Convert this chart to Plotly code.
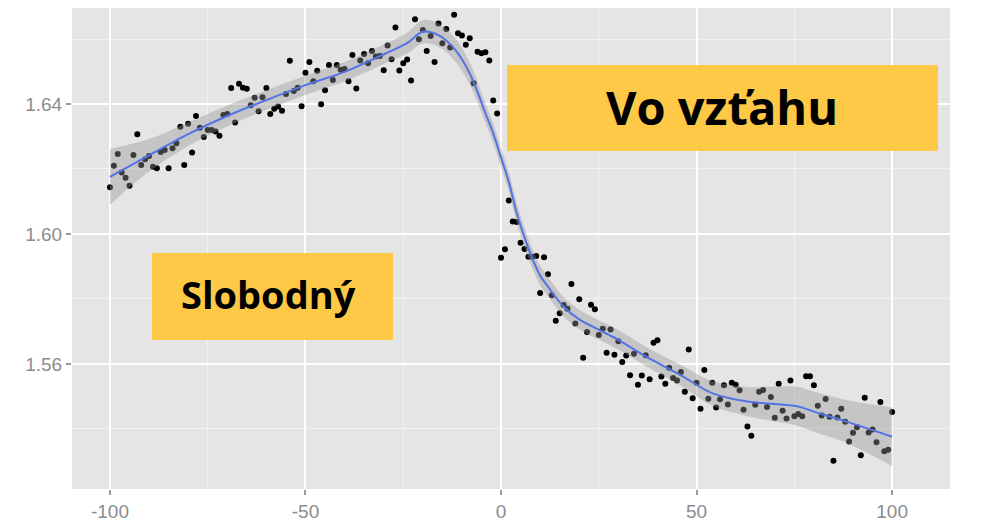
import plotly.graph_objects as go

# ---- data ----
x_vals = list(range(-100, 101))
y_vals = [
    1.6144, 1.6210, 1.6246, 1.6189, 1.6173, 1.6148, 1.6243, 1.6307, 1.6212, 1.6230,  # -100..-91
    1.6240, 1.6207, 1.6202, 1.6252, 1.6258, 1.6202, 1.6264, 1.6279, 1.6330, 1.6212,  # -90..-81
    1.6339, 1.6251, 1.6363, 1.6327, 1.6298, 1.6320, 1.6320, 1.6315, 1.6302, 1.6366,  # -80..-71
    1.6369, 1.6449, 1.6343, 1.6462, 1.6450, 1.6447, 1.6396, 1.6419, 1.6378, 1.6421,  # -70..-61
    1.6449, 1.6369, 1.6385, 1.6392, 1.6379, 1.6431, 1.6533, 1.6440, 1.6450, 1.6393,  # -60..-51
    1.6496, 1.6529, 1.6470, 1.6502, 1.6399, 1.6442, 1.6520, 1.6474, 1.6520, 1.6505,  # -50..-41
    1.6508, 1.6470, 1.6551, 1.6448, 1.6534, 1.6554, 1.6525, 1.6563, 1.6546, 1.6548,  # -40..-31
    1.6504, 1.6580, 1.6538, 1.6635, 1.6503, 1.6525, 1.6537, 1.6472, 1.6661, 1.6599,  # -30..-21
    1.6628, 1.6563, 1.6609, 1.6529, 1.6648, 1.6587, 1.6631, 1.6574, 1.6675, 1.6618,  # -20..-11
    1.6611, 1.6582, 1.6602, 1.6464, 1.6561, 1.6556, 1.6559, 1.6534, 1.6411, 1.6371,  # -10..-1
    1.5927, 1.5953, 1.6103, 1.6038, 1.6037, 1.5973, 1.5954, 1.5930, 1.5930, 1.5932,  # 0..9
    1.5818, 1.5928, 1.5876, 1.5811, 1.5733, 1.5756, 1.5781, 1.5770, 1.5846, 1.5724,  # 10..19
    1.5799, 1.5619, 1.5698, 1.5782, 1.5768, 1.5689, 1.5708, 1.5634, 1.5706, 1.5628,  # 20..29
    1.5670, 1.5606, 1.5626, 1.5565, 1.5631, 1.5536, 1.5564, 1.5627, 1.5553, 1.5665,  # 30..39
    1.5673, 1.5561, 1.5539, 1.5588, 1.5557, 1.5549, 1.5575, 1.5514, 1.5644, 1.5494,  # 40..49
    1.5542, 1.5462, 1.5581, 1.5493, 1.5542, 1.5466, 1.5491, 1.5534, 1.5475, 1.5542,  # 50..59
    1.5536, 1.5519, 1.5459, 1.5407, 1.5379, 1.5474, 1.5514, 1.5520, 1.5467, 1.5498,  # 60..69
    1.5434, 1.5539, 1.5456, 1.5432, 1.5549, 1.5439, 1.5446, 1.5439, 1.5562, 1.5562,  # 70..79
    1.5534, 1.5471, 1.5441, 1.5492, 1.5437, 1.5302, 1.5435, 1.5462, 1.5422, 1.5361,  # 80..89
    1.5388, 1.5405, 1.5319, 1.5496, 1.5389, 1.5398, 1.5359, 1.5483, 1.5331, 1.5336,  # 90..99
    1.5452,                                                                          # 100
]

smooth_x = [-100, -90, -80, -70, -60, -50, -40, -30, -24, -20, -16, -12, -8, -4, -2,
            0, 2, 4, 6, 8, 10, 12, 16, 20, 25, 30, 37, 46, 54, 63, 71, 76, 80, 88, 100]
smooth_y = [1.6176, 1.6242, 1.6307, 1.6363, 1.6412, 1.6458, 1.6499, 1.6553, 1.6587, 1.6622,
            1.6612, 1.6571, 1.6494, 1.6372, 1.6310, 1.6235, 1.6160, 1.6065, 1.5990, 1.5925,
            1.5872, 1.5838, 1.5776, 1.5737, 1.5705, 1.5674, 1.5623, 1.5565, 1.5510, 1.5484,
            1.5476, 1.5469, 1.5453, 1.5424, 1.5376]
smooth_se = [0.0086, 0.0050, 0.0036, 0.0032, 0.0030, 0.0030, 0.0030, 0.0030, 0.0032, 0.0036,
             0.0036, 0.0036, 0.0034, 0.0030, 0.0030, 0.0030, 0.0030, 0.0030, 0.0030, 0.0030,
             0.0030, 0.0030, 0.0030, 0.0030, 0.0030, 0.0030, 0.0030, 0.0032, 0.0038, 0.0045,
             0.0055, 0.0060, 0.0062, 0.0066, 0.0090]

x_ticks = [-100, -50, 0, 50, 100]
y_ticks = [1.56, 1.60, 1.64]
y_tick_text = ["1.56", "1.60", "1.64"]

label_single = "Slobodný"
label_relation = "Vo vzťahu"

upper = [m + s for m, s in zip(smooth_y, smooth_se)]
lower = [m - s for m, s in zip(smooth_y, smooth_se)]

fig = go.Figure()

fig.add_trace(go.Scatter(x=x_vals, y=y_vals, mode="markers",
                         marker=dict(color="black", size=6, line=dict(width=0)),
                         showlegend=False, hoverinfo="skip"))
fig.add_trace(go.Scatter(x=smooth_x, y=lower, mode="lines",
                         line=dict(width=0, shape="spline"),
                         showlegend=False, hoverinfo="skip"))
fig.add_trace(go.Scatter(x=smooth_x, y=upper, mode="lines",
                         line=dict(width=0, shape="spline"),
                         fill="tonexty", fillcolor="rgba(150,150,150,0.4)",
                         showlegend=False, hoverinfo="skip"))
fig.add_trace(go.Scatter(x=smooth_x, y=smooth_y, mode="lines",
                         line=dict(color="#5273E6", width=2, shape="spline"),
                         showlegend=False, hoverinfo="skip"))

tick_font = dict(family="Liberation Sans, Arial, sans-serif", size=19, color="#8C8C8C")

# page body adds an 8px offset; plot area maps to reference pixels x 72..950, y 8..489
H_PLOT = 481.0
W_PLOT = 878.0

def py(v):
    return (489 - v) / H_PLOT

def px(v):
    return (v - 72) / W_PLOT

fig.update_layout(
    width=992, height=517,
    margin=dict(l=64, r=50, t=0, b=36),
    paper_bgcolor="white",
    plot_bgcolor="#E5E5E5",
    xaxis=dict(range=[-109.7, 114.8], tickvals=x_ticks, ticktext=[str(v) for v in x_ticks],
               showgrid=True, gridcolor="white", gridwidth=2, zeroline=False,
               ticks="outside", ticklen=5, tickwidth=1.5, tickcolor="#9A9A9A",
               tickfont=tick_font, showline=False,
               minor=dict(tickvals=[-75, -25, 25, 75], showgrid=True,
                          gridcolor="#F2F2F2", gridwidth=1, ticks="")),
    yaxis=dict(range=[1.5215, 1.66954], tickvals=y_ticks, ticktext=y_tick_text,
               showgrid=True, gridcolor="white", gridwidth=2, zeroline=False,
               ticks="outside", ticklen=5, tickwidth=1.5, tickcolor="#9A9A9A",
               tickfont=tick_font, showline=False,
               minor=dict(tickvals=[1.54, 1.58, 1.62, 1.66], showgrid=True,
                          gridcolor="#F2F2F2", gridwidth=1, ticks="")),
    shapes=[
        dict(type="rect", xref="paper", yref="paper",
             x0=px(507), x1=px(938), y0=py(151), y1=py(65),
             fillcolor="#FDC947", line=dict(width=0), layer="above"),
        dict(type="rect", xref="paper", yref="paper",
             x0=px(152), x1=px(393), y0=py(340), y1=py(253),
             fillcolor="#FDC947", line=dict(width=0), layer="above"),
    ],
    annotations=[
        dict(text="<b>" + label_relation + "</b>", xref="paper", yref="paper",
             x=px(721.7), y=py(107), xanchor="center", yanchor="middle",
             showarrow=False,
             font=dict(family="Open Sans, sans-serif", size=47, color="black")),
        dict(text="<b>" + label_single + "</b>", xref="paper", yref="paper",
             x=px(268.5), y=py(294), xanchor="center", yanchor="middle",
             showarrow=False,
             font=dict(family="Open Sans, sans-serif", size=38, color="black")),
    ],
)

fig.write_html("out.html")
